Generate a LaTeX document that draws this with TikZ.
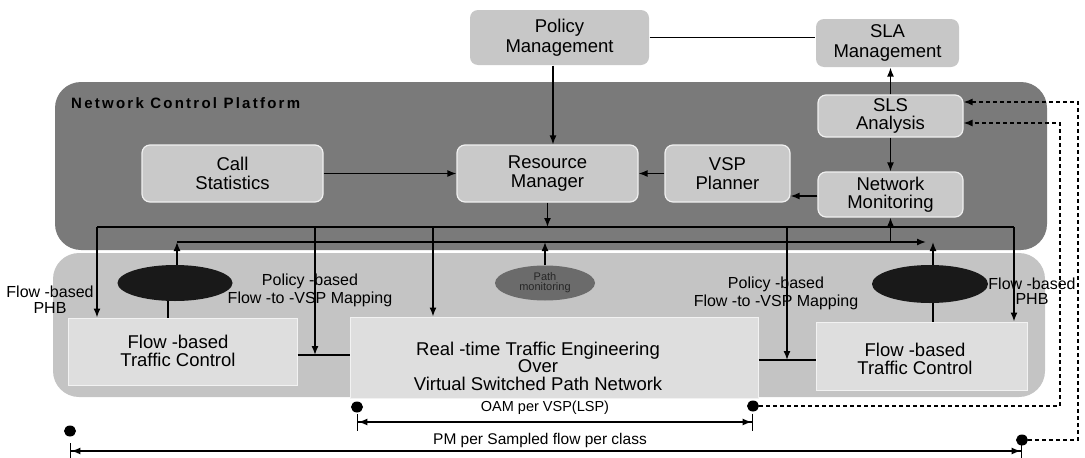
\documentclass[tikz,border=0pt]{standalone}
\usepackage{fontspec}
\setmainfont{Liberation Sans}
\newfontfamily\spacedfont[LetterSpace=15]{Liberation Sans}
\usetikzlibrary{arrows.meta,shapes.geometric}
\tikzset{
  box/.style={rounded corners=8pt, fill=black!21, draw=black!6, line width=1.2pt,
    align=center, inner sep=0pt, font=\fontsize{18.5}{19.5}\selectfont},
  topbox/.style={box, fill=black!22, draw=none},
  lowbox/.style={fill=black!13, draw=black!5, line width=1pt, inner sep=0pt},
  region/.style={rounded corners=26pt},
  conn/.style={line width=1.4pt, -{Latex[length=9pt,width=7pt]}},
  plain/.style={line width=1.4pt},
  lbl/.style={font=\fontsize{16}{18}\selectfont, align=center, inner sep=0pt},
  boxtext/.style={font=\fontsize{18.5}{18}\selectfont, align=center, inner sep=0pt},
  dashconn/.style={line width=1.3pt, dash pattern=on 4pt off 3pt, -{Latex[length=9pt,width=7pt]}},
  dot/.style={ellipse, fill=black, minimum width=12pt, minimum height=11pt, inner sep=0pt},
  oval/.style={ellipse, fill=black!90, inner sep=0pt},
  meas/.style={line width=1.4pt, {Bar[width=17pt]Latex[length=9pt,width=7pt]}-{Latex[length=9pt,width=7pt]Bar[width=17pt]}},
}
\begin{document}
\begin{tikzpicture}[x=1pt,y=-1pt]
\useasboundingbox (0,0) rectangle (1085,458);
% regions
\fill[region, black!52] (55,82) rectangle (1047,250);
\fill[region, black!23] (53,253) rectangle (1045,397);
\node[anchor=west, inner sep=0pt, font=\spacedfont\bfseries\fontsize{15}{15}\selectfont] (ncp) at (71,103) {Network Control Platform};

% top boxes
\node[topbox, minimum width=179pt, minimum height=55pt] (pol) at (559.5,37.5) {Policy\\Management};
\node[topbox, minimum width=143pt, minimum height=48pt] (sla) at (887.5,43) {SLA\\Management};

% platform boxes
\node[box, minimum width=145pt, minimum height=42pt, font=\fontsize{18.5}{17.5}\selectfont] (sls) at (890.5,116) {SLS\\Analysis};
\node[box, minimum width=181pt, minimum height=57pt] (call) at (232.5,173.5) {Call\\Statistics};
\node[box, minimum width=181pt, minimum height=57pt] (rm) at (547.5,173.5) {Resource\\Manager};
\node[box, minimum width=125pt, minimum height=57pt] (vsp) at (727.5,173.5) {VSP\\Planner};
\node[box, minimum width=145pt, minimum height=45pt, font=\fontsize{18.5}{18}\selectfont] (nm) at (890.5,194.5) {Network\\Monitoring};

% lower boxes
\node[lowbox, minimum width=229pt, minimum height=67pt] (fl) at (182.5,351.5) {};
\node[boxtext] (flt) at (178,351) {Flow -based\\Traffic Control};
\node[lowbox, minimum width=211pt, minimum height=68pt] (fr) at (921.5,356) {};
\node[boxtext] (frt) at (915,359) {Flow -based\\Traffic Control};
\node[lowbox, minimum width=408pt, minimum height=81pt] (rt) at (554,357.5) {};
\node[inner sep=0pt, align=center, font=\fontsize{18.5}{17.5}\selectfont] (rtt) at (538,366) {Real -time Traffic Engineering\\Over\\Virtual Switched Path Network};

% ovals
\node[oval, minimum width=115pt, minimum height=36pt] (el1) at (175,283) {};
\node[oval, fill=black!58, minimum width=100pt, minimum height=35pt, align=center,
  font=\fontsize{11}{10}\selectfont, text=black!85] (el2) at (545,283) {Path\\monitoring};
\node[oval, minimum width=116pt, minimum height=38pt] (el3) at (930,284) {};

% labels
\node[lbl, font=\fontsize{16}{16}\selectfont] (lphb) at (50,300) {Flow -based\\PHB};
\node[lbl, font=\fontsize{16}{15}\selectfont] (rphb) at (1032,291) {Flow -based\\PHB};
\node[lbl] (lmap) at (310,290) {Policy -based\\Flow -to -VSP Mapping};
\node[lbl] (rmap) at (776,293) {Policy -based\\Flow -to -VSP Mapping};

% platform connectors
\draw[plain] (pol.east) -- (pol.east -| sla.west);
\draw[conn] ([xshift=-6.5pt]pol.south) -- ([xshift=5.5pt]rm.north);
\draw[conn] (call.east) -- (rm.west);
\draw[conn] (vsp.west) -- (rm.east);
\draw[conn] ([yshift=-1.5pt]nm.west) -- ([yshift=-1.5pt]nm.west -| vsp.east);
\draw[conn] (sls.south) -- (nm.north);
\draw[conn] (sls.north) -- (sls.north |- sla.south);

% bus 1 (control down)
\coordinate (busL) at (97,227);
\coordinate (busR) at (1014,227);
\coordinate (d3) at (433,227);
\coordinate (mapL) at (315,355);
\coordinate (mapR) at (787,360);
\draw[plain] (busL) -- (busR);
\draw[conn] (rm.south) -- (rm.south |- busL);
\draw[conn] (busL) -- (busL |- fl.north);
\draw[conn] (mapL |- busL) -- (mapL);
\draw[conn] (d3) -- (d3 |- rt.north);
\draw[conn] (mapR |- busL) -- (mapR);
\draw[conn] (busR) -- (busR |- fr.north);
\draw[plain] (fl.east |- mapL) -- (rt.west |- mapL);
\draw[plain] (rt.east |- mapR) -- (fr.west |- mapR);

% bus 2 (monitoring up)
\coordinate (b2L) at (177,242);
\coordinate (b2R) at (926,242);
\draw[conn] (b2L) -- (b2R);
\draw[conn] ([xshift=2pt]el1.north) -- (b2L);
\draw[plain] ([xshift=-7pt]el1.south) -- ([xshift=-7pt]el1.south |- fl.north);
\draw[conn] (el2.north) -- (el2.north |- b2L);
\draw[conn] ([xshift=3pt]el3.north) -- ([xshift=3pt]el3.north |- b2R);
\draw[plain] ([xshift=3pt]el3.south) -- ([xshift=3pt]el3.south |- fr.north);
\draw[conn] (nm.south |- b2L) -- (nm.south);

% OAM and PM
\node[dot] (o1) at (357,407) {};
\node[dot] (o2) at (753,406) {};
\node[dot] (p1) at (70,431) {};
\node[dot] (p2) at (1022,440) {};
\node[inner sep=0pt, font=\fontsize{14.5}{14.5}\selectfont] (oam) at (545,408) {OAM per VSP(LSP)};
\node[inner sep=0pt, font=\fontsize{15.5}{15.5}\selectfont] (pm) at (540,440) {PM per Sampled flow per class};
\coordinate (oamL) at (357,422);
\coordinate (oamR) at (753,422);
\coordinate (pmL) at (70,451);
\coordinate (pmR) at (1022,451);
\draw[meas] (oamL) -- (oamR);
\draw[meas] (pmL) -- (pmR);

% dashed feedback
\coordinate (dA) at (1060,123);
\coordinate (dB) at (1078,102);
\draw[dashconn] (o2.east) -- (o2.east -| dA) -- (dA) -- (dA -| sls.east);
\draw[dashconn] (p2.east) -- (p2.east -| dB) -- (dB) -- (dB -| sls.east);
\end{tikzpicture}
\end{document}
